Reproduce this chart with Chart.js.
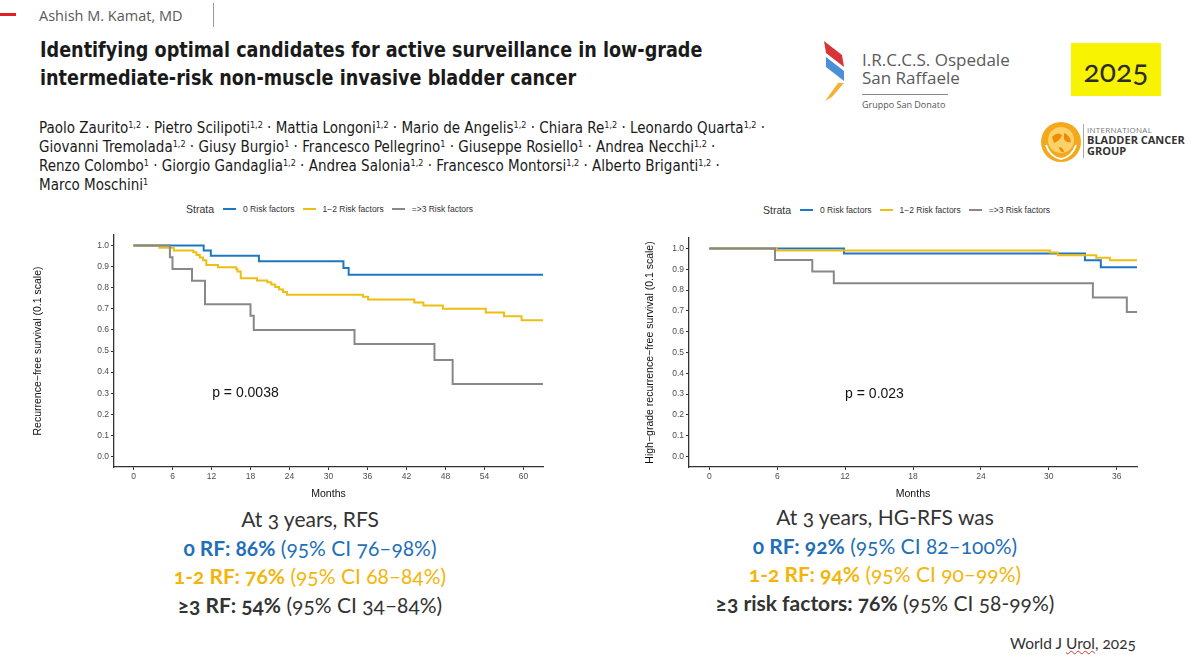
<!DOCTYPE html>
<html>
<head>
<meta charset="utf-8">
<script src="https://cdn.jsdelivr.net/npm/chart.js@4.4.1/dist/chart.umd.min.js"></script>
<style>
  html, body { margin: 0; padding: 0; background: #fff; }
  body { width: 1200px; height: 666px; position: relative; overflow: hidden; font-family: "Liberation Sans", Arial, sans-serif; }
  .abs { position: absolute; white-space: nowrap; }
  .narrow { font-family: "Liberation Sans Narrow", "DejaVu Sans Condensed", "Roboto", sans-serif; }
  .title { left: 40px; font-weight: bold; font-size: 22px; color: #1a1a1a; transform: scaleX(0.89); transform-origin: 0 0; }
  .authors { left: 39px; font-size: 15px; color: #1a1a1a; }
  .authors sup { font-size: 9px; vertical-align: 5px; line-height: 0; }
  .legend { font-size: 8.5px; color: #333; display: flex; align-items: center; }
  .legend .strata { font-size: 10.5px; margin-right: 9px; }
  .legend .sw { width: 13px; height: 2px; margin-right: 7px; }
  .legend .lab { margin-right: 8px; }
  .stats { font-family: "Lato", "Open Sans", sans-serif; font-size: 21px; color: #333; text-align: center; line-height: 28.5px; font-variant-numeric: oldstyle-nums; }
  .stats b { font-weight: bold; }
  .blue { color: #1f6fb9; }
  .gold { color: #f3b50a; }
  canvas { position: absolute; }
</style>
</head>
<body>
<!-- header -->
<div class="abs" style="left:0;top:13px;width:16px;height:3px;background:#e02020;"></div>
<div class="abs" style="left:39px;top:6px;font-family:'Open Sans',sans-serif;font-size:14.5px;color:#595959;">Ashish M. Kamat, MD</div>
<div class="abs" style="left:213px;top:3px;width:1px;height:24px;background:#999;"></div>

<div class="abs narrow title" style="top:37px;">Identifying optimal candidates for active surveillance in low-grade</div>
<div class="abs narrow title" style="top:65px;">intermediate-risk non-muscle invasive bladder cancer</div>

<div class="abs narrow authors" style="top:119px;">Paolo Zaurito<sup>1,2</sup> · Pietro Scilipoti<sup>1,2</sup> · Mattia Longoni<sup>1,2</sup> · Mario de Angelis<sup>1,2</sup> · Chiara Re<sup>1,2</sup> · Leonardo Quarta<sup>1,2</sup> ·</div>
<div class="abs narrow authors" style="top:138px;">Giovanni Tremolada<sup>1,2</sup> · Giusy Burgio<sup>1</sup> · Francesco Pellegrino<sup>1</sup> · Giuseppe Rosiello<sup>1</sup> · Andrea Necchi<sup>1,2</sup> ·</div>
<div class="abs narrow authors" style="top:157px;">Renzo Colombo<sup>1</sup> · Giorgio Gandaglia<sup>1,2</sup> · Andrea Salonia<sup>1,2</sup> · Francesco Montorsi<sup>1,2</sup> · Alberto Briganti<sup>1,2</sup> ·</div>
<div class="abs narrow authors" style="top:176px;">Marco Moschini<sup>1</sup></div>

<!-- San Raffaele logo -->
<svg class="abs" style="left:822px;top:41px;" width="28" height="62" viewBox="0 0 28 62">
  <path d="M2 0 L20 14 L22 26 L4 12 Z" fill="#d8353a"/>
  <path d="M4 16 L22 30 L22 40 L4 26 Z" fill="#4b8fd6"/>
  <path d="M22 42 L10 56 L3 60 L16 42 Z" fill="#f2b233"/>
</svg>
<div class="abs" style="left:862px;top:51px;font-family:'Open Sans',sans-serif;font-size:17px;line-height:18px;color:#5a5a5a;">I.R.C.C.S. Ospedale<br>San Raffaele</div>
<div class="abs" style="left:862px;top:94px;width:86px;height:1px;background:#888;"></div>
<div class="abs" style="left:862px;top:98px;font-family:'Open Sans',sans-serif;font-size:9px;color:#555;">Gruppo San Donato</div>

<!-- year box -->
<div class="abs" style="left:1071px;top:43px;width:90px;height:53px;background:#f8f300;"></div>
<div class="abs" style="left:1071px;top:52px;width:90px;text-align:center;font-family:'Lato',sans-serif;font-size:30px;color:#2b2b2b;font-variant-numeric:oldstyle-nums;">2025</div>

<!-- IBCG logo -->
<svg class="abs" style="left:1040px;top:121px;" width="42" height="42" viewBox="0 0 42 42">
  <circle cx="21" cy="21" r="20" fill="#f4a81c"/>
  <circle cx="21" cy="19" r="13" fill="#fbd16a"/>
  <path d="M12 16 q5 -6 10 -2 q-2 6 -8 8 z M24 12 q6 2 7 9 q-5 1 -7 -3 z M19 26 q4 0 5 5 q-4 1 -5 -5 z" fill="#f08c00"/>
  <path d="M6 24 q4 12 15 14 q11 -2 15 -14" stroke="#fff" stroke-width="2" fill="none"/>
</svg>
<div class="abs" style="left:1083px;top:124px;width:1px;height:34px;background:#aaa;"></div>
<div class="abs" style="left:1087px;top:124px;font-family:'Open Sans',sans-serif;font-size:8px;color:#777;letter-spacing:0.3px;">INTERNATIONAL</div>
<div class="abs" style="left:1087px;top:134px;font-family:'Open Sans',sans-serif;font-size:11px;font-weight:bold;line-height:11px;color:#333;">BLADDER CANCER<br>GROUP</div>

<!-- legends -->
<div class="abs legend" style="left:186px;top:203px;">
  <span class="strata">Strata</span>
  <span class="sw" style="background:#1f77c4"></span><span class="lab">0 Risk factors</span>
  <span class="sw" style="background:#eebe14"></span><span class="lab">1−2 Risk factors</span>
  <span class="sw" style="background:#888"></span><span class="lab">=&gt;3 Risk factors</span>
</div>
<div class="abs legend" style="left:763px;top:204px;">
  <span class="strata">Strata</span>
  <span class="sw" style="background:#1f77c4"></span><span class="lab">0 Risk factors</span>
  <span class="sw" style="background:#eebe14"></span><span class="lab">1−2 Risk factors</span>
  <span class="sw" style="background:#888"></span><span class="lab">=&gt;3 Risk factors</span>
</div>

<canvas id="chart-rfs" width="540" height="300" style="left:20px;top:200px;"></canvas>
<canvas id="chart-hgrfs" width="520" height="300" style="left:640px;top:200px;"></canvas>

<!-- stats -->
<div class="abs stats" style="left:160px;top:505px;width:300px;">
  At 3 years, RFS<br>
  <span class="blue"><b>0 RF: 86%</b> (95% CI 76–98%)</span><br>
  <span class="gold"><b>1-2 RF: 76%</b> (95% CI 68–84%)</span><br>
  <span><b>≥3 RF: 54%</b> (95% CI 34–84%)</span>
</div>
<div class="abs stats" style="left:685px;top:503px;width:400px;">
  At 3 years, HG-RFS was<br>
  <span class="blue"><b>0 RF: 92%</b> (95% CI 82–100%)</span><br>
  <span class="gold"><b>1-2 RF: 94%</b> (95% CI 90–99%)</span><br>
  <span><b>≥3 risk factors: 76%</b> (95% CI 58-99%)</span>
</div>
<div class="abs" style="left:1010px;top:634px;font-family:'Lato',sans-serif;font-size:15.5px;color:#333;font-variant-numeric:oldstyle-nums;">World J <span style="text-decoration:underline wavy #d33;text-decoration-thickness:1px;">Urol</span>, 2025</div>

<script>
// Recurrence-free survival (left panel)
const rfsMonths0 = [0, 10.8, 11.9, 19.3, 32.3, 33.1, 63];
const rfsSurv0 = [1, 0.976, 0.952, 0.926, 0.893, 0.862, 0.862];
const rfsMonths12 = [0, 4.0, 6.2, 9.2, 9.7, 10.2, 10.7, 11.2, 13.0, 15.8, 16.0, 16.5, 19.0, 20.6, 21.2, 21.8, 22.4, 23.0, 23.6, 35.3, 36.1, 43.2, 44.6, 47.6, 54.2, 57.0, 59.7, 63];
const rfsSurv12 = [1, 0.99, 0.976, 0.968, 0.955, 0.943, 0.93, 0.908, 0.897, 0.889, 0.877, 0.845, 0.834, 0.826, 0.815, 0.803, 0.792, 0.78, 0.767, 0.757, 0.744, 0.73, 0.716, 0.70, 0.682, 0.665, 0.646, 0.646];
const rfsMonths3 = [0, 5.6, 6.0, 9.0, 11.0, 18.0, 18.5, 34.0, 46.3, 49.1, 63];
const rfsSurv3 = [1, 0.944, 0.889, 0.833, 0.722, 0.667, 0.60, 0.533, 0.457, 0.343, 0.343];

// High-grade recurrence-free survival (right panel)
const hgMonths0 = [0, 11.9, 33.2, 34.6, 37.8];
const hgSurv0 = [1, 0.976, 0.943, 0.909, 0.909];
const hgMonths12 = [0, 5.95, 30.1, 30.8, 34.2, 35.4, 37.8];
const hgSurv12 = [1, 0.99, 0.98, 0.967, 0.955, 0.943, 0.943];
const hgMonths3 = [0, 5.8, 9.1, 11.0, 33.9, 36.9, 37.8];
const hgSurv3 = [1, 0.944, 0.889, 0.833, 0.764, 0.694, 0.694];

// Axis ticks
const rfsMonthTicks = [0, 6, 12, 18, 24, 30, 36, 42, 48, 54, 60];
const hgMonthTicks = [0, 6, 12, 18, 24, 30, 36];
const survTicks = [0, 0.1, 0.2, 0.3, 0.4, 0.5, 0.6, 0.7, 0.8, 0.9, 1.0];

const COLORS = { rf0: '#1f77c4', rf12: '#eebe14', rf3: '#888888' };
const AXIS_FONT = '"Liberation Sans", Arial, sans-serif';

const toPoints = (xs, ys) => xs.map((x, i) => ({ x, y: ys[i] }));

// draws the log-rank p value at a data position
const pValuePlugin = {
  id: 'pValue',
  afterDatasetsDraw(chart, args, opts) {
    const { ctx, scales: { x, y } } = chart;
    ctx.save();
    ctx.font = '14px ' + AXIS_FONT;
    ctx.fillStyle = '#111';
    ctx.textBaseline = 'middle';
    ctx.fillText(opts.text, x.getPixelForValue(opts.x), y.getPixelForValue(opts.y));
    ctx.restore();
  }
};

function stepDataset(label, xs, ys, color, order) {
  return {
    label,
    data: toPoints(xs, ys),
    borderColor: color,
    borderWidth: 2,
    pointRadius: 0,
    stepped: true,
    fill: false,
    order
  };
}

function kmChart(id, cfg) {
  const axisLine = { display: true, color: '#333', width: 1.3 };
  const tickGrid = { drawOnChartArea: false, drawTicks: true, tickLength: 3, color: '#333' };
  return new Chart(document.getElementById(id).getContext('2d'), {
    type: 'line',
    data: { datasets: cfg.datasets },
    options: {
      responsive: false,
      animation: false,
      layout: { padding: cfg.padding },
      plugins: {
        legend: { display: false },
        tooltip: { enabled: false },
        pValue: cfg.pValue
      },
      scales: {
        x: {
          type: 'linear',
          min: cfg.xMin,
          max: cfg.xMax,
          border: axisLine,
          grid: tickGrid,
          afterBuildTicks: (scale) => { scale.ticks = cfg.xTicks.map(v => ({ value: v })); },
          afterFit: (scale) => { scale.height = 33; },
          ticks: { color: '#4d4d4d', font: { size: 8.5, family: AXIS_FONT }, padding: 2, maxRotation: 0 },
          title: { display: true, text: 'Months', color: '#111', font: { size: 10.5, family: AXIS_FONT }, padding: { top: 0, bottom: 0 } }
        },
        y: {
          min: -0.05,
          max: 1.05,
          border: axisLine,
          grid: tickGrid,
          afterBuildTicks: (scale) => { scale.ticks = survTicks.map(v => ({ value: v })); },
          afterFit: (scale) => { scale.width = cfg.yWidth; },
          ticks: { color: '#4d4d4d', font: { size: 8.5, family: AXIS_FONT }, padding: 2, callback: (v) => v.toFixed(1) },
          title: { display: true, text: cfg.yTitle, color: '#111', font: { size: 10.5, family: AXIS_FONT }, padding: { top: 4, bottom: 0 } }
        }
      }
    },
    plugins: [pValuePlugin]
  });
}

kmChart('chart-rfs', {
  datasets: [
    stepDataset('0 Risk factors', rfsMonths0, rfsSurv0, COLORS.rf0, 3),
    stepDataset('1−2 Risk factors', rfsMonths12, rfsSurv12, COLORS.rf12, 2),
    stepDataset('=>3 Risk factors', rfsMonths3, rfsSurv3, COLORS.rf3, 1)
  ],
  xMin: -3, xMax: 63, xTicks: rfsMonthTicks,
  yTitle: 'Recurrence−free survival (0.1 scale)',
  yWidth: 86,
  padding: { left: 8, right: 17, top: 35, bottom: 0 },
  pValue: { text: 'p = 0.0038', x: 12.1, y: 0.3 }
});

kmChart('chart-hgrfs', {
  datasets: [
    stepDataset('0 Risk factors', hgMonths0, hgSurv0, COLORS.rf0, 3),
    stepDataset('1−2 Risk factors', hgMonths12, hgSurv12, COLORS.rf12, 2),
    stepDataset('=>3 Risk factors', hgMonths3, hgSurv3, COLORS.rf3, 1)
  ],
  xMin: -1.8, xMax: 37.8, xTicks: hgMonthTicks,
  yTitle: 'High−grade recurrence−free survival (0.1 scale)',
  yWidth: 49,
  padding: { left: 0, right: 23, top: 38, bottom: 0 },
  pValue: { text: 'p = 0.023', x: 12.0, y: 0.3 }
});
</script>
</body>
</html>
